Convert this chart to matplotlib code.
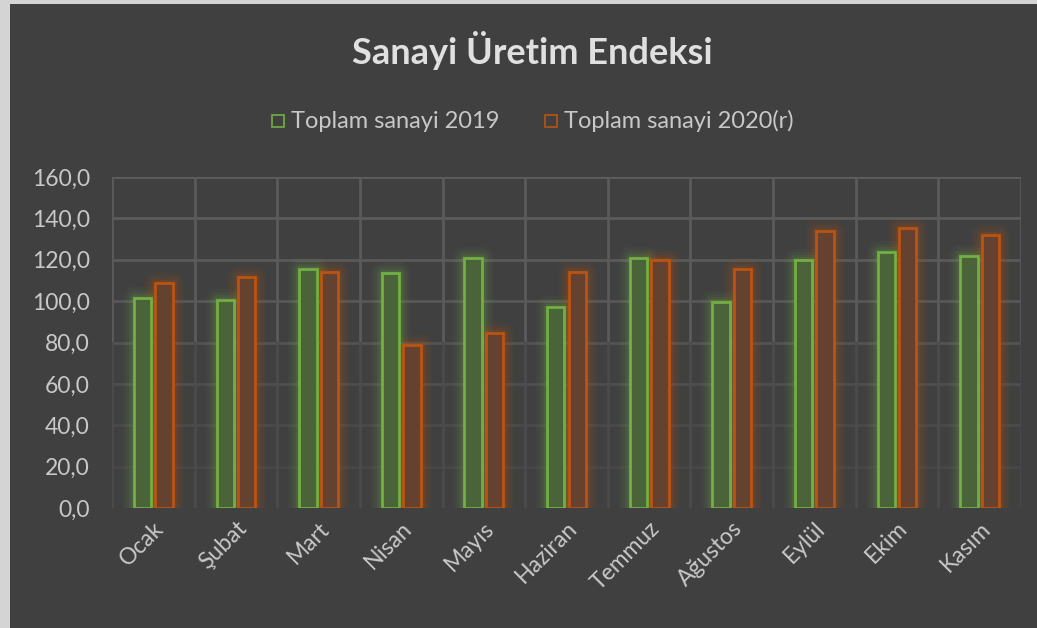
import matplotlib
matplotlib.use("Agg")
import matplotlib.pyplot as plt
import numpy as np
from matplotlib.patches import Rectangle

categories = ["Ocak", "Şubat", "Mart", "Nisan", "Mayıs", "Haziran", "Temmuz",
              "Ağustos", "Eylül", "Ekim", "Kasım"]
sanayi_2019 = [101.5, 100.7, 115.7, 113.6, 121.0, 97.4, 121.0, 99.4, 119.7, 123.7, 121.6]
sanayi_2020 = [108.7, 111.5, 114.2, 78.6, 84.6, 114.2, 119.9, 115.7, 133.9, 135.2, 131.8]
series_names = ["Toplam sanayi 2019", "Toplam sanayi 2020(r)"]
y_ticks = [0, 20, 40, 60, 80, 100, 120, 140, 160]
y_tick_labels = ["0,0", "20,0", "40,0", "60,0", "80,0", "100,0", "120,0", "140,0", "160,0"]

plt.rcParams['font.family'] = ['Lato', 'DejaVu Sans']

W, H = 1037, 628
fig = plt.figure(figsize=(W / 100, H / 100), dpi=100)
fig.patch.set_facecolor('#d4d4d4')
bg = '#404040'
fig.patches.append(Rectangle((10 / W, 0), 1 - 10 / W, 1 - 4 / H, transform=fig.transFigure,
                             facecolor=bg, edgecolor='none', zorder=-10))

ax = fig.add_axes([112 / W, (H - 508) / H, (1021 - 112) / W, (508 - 177) / H])
ax.set_zorder(2)
ax.set_facecolor(bg)

x = np.arange(len(categories))
bw = 0.21
off = 0.13
edge_colors = ['#72b043', '#bb5412']
fill_colors = ['#4a6338', '#65412f']
for vals, sgn, ec, fc in [(sanayi_2019, -1, edge_colors[0], fill_colors[0]),
                          (sanayi_2020, 1, edge_colors[1], fill_colors[1])]:
    # glow
    for lw, a in [(16, 0.05), (12, 0.07), (8, 0.09), (5, 0.12)]:
        ax.bar(x + sgn * off, vals, width=bw, facecolor='none', edgecolor=ec,
               linewidth=lw, alpha=a, zorder=2, joinstyle='round')
    ax.bar(x + sgn * off, vals, width=bw, facecolor=fc, edgecolor=ec,
           linewidth=2.0, zorder=3)

ax.set_xlim(-0.5, len(categories) - 0.5)
ax.set_ylim(0, 160)
ax.set_yticks(y_ticks)
ax.set_yticklabels(y_tick_labels)
ax.set_xticks(x)
ax.set_xticklabels(categories, rotation=45, ha='right', rotation_mode='anchor')
ax.tick_params(axis='both', length=0, colors='#c8c8c8', labelsize=16.5)
ax.tick_params(axis='y', pad=16)
ax.tick_params(axis='x', pad=7)

# gridlines (fade toward the bottom)
grid_cols = {160: '#5e5e5e', 140: '#5b5b5b', 120: '#595959', 100: '#575757',
             80: '#535353', 60: '#4e4e4e', 40: '#4a4a4a', 20: '#474747'}
for yv in y_ticks[1:]:
    ax.axhline(yv, color=grid_cols[yv], linewidth=2.0, zorder=1)
for xv in np.arange(-0.5, len(categories), 1.0):
    ax.plot([xv, xv], [80, 160], color='#5a5a5a', linewidth=2.0, zorder=1)
    ax.plot([xv, xv], [0, 80], color='#4b4b4b', linewidth=2.0, zorder=1)
for s in ax.spines.values():
    s.set_visible(False)

fig.text(532 / W, 1 - 51 / H, "Sanayi Üretim Endeksi", ha='center', va='center',
         fontsize=26, fontweight='bold', color='#e0e0e0')

# legend
leg_y = 1 - 121 / H
for (sx, tx), name, ec in zip([(272, 291), (545, 564)], series_names, edge_colors):
    fig.patches.append(Rectangle((sx / W, 1 - 127 / H), 12 / W, 12 / H,
                                 transform=fig.transFigure, facecolor='none',
                                 edgecolor=ec, linewidth=1.2))
    fig.text(tx / W, leg_y, name, ha='left', va='center', fontsize=17, color='#c8c8c8')

fig.savefig("out.png", dpi=100, facecolor=fig.get_facecolor())
